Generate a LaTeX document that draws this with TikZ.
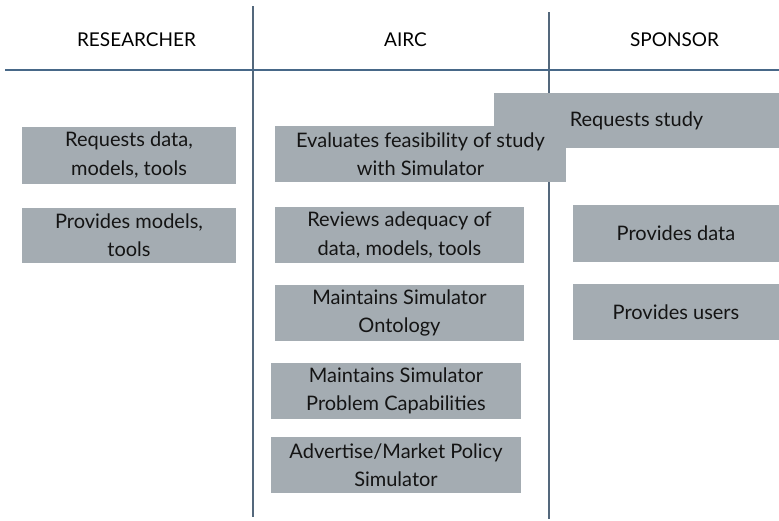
\documentclass[tikz,border=0pt]{standalone}
\usepackage{fontspec}
\setmainfont{Lato}
\definecolor{taskfill}{RGB}{164,172,178}
\definecolor{tasktext}{RGB}{20,20,20}
\definecolor{ruleblue}{RGB}{72,104,136}
\definecolor{laneline}{RGB}{84,104,124}
\begin{document}
\begin{tikzpicture}[x=1pt,y=-1pt,
  task/.style={fill=taskfill, draw=none, inner sep=0pt, align=center,
    text=tasktext, font=\fontsize{20}{28.5}\selectfont},
  lanehead/.style={inner sep=0pt, text=black, font=\fontsize{19}{22}\selectfont},
  header rule/.style={draw=ruleblue, line width=1.6pt},
  lane rule/.style={draw=laneline, line width=1.3pt}]
\useasboundingbox (0,0) rectangle (779,520);

% lane headings
\node[lanehead] (hres) at (136.5,40) {RESEARCHER};
\node[lanehead] (hairc) at (405.5,40) {AIRC};
\node[lanehead] (hspo) at (674.5,40) {SPONSOR};

% lane separators
\coordinate (ruleL) at (5,70);
\coordinate (ruleR) at (779,70);
\coordinate (sep1t) at (253,6);
\coordinate (sep1b) at (253,517);
\coordinate (sep2t) at (549,12);
\coordinate (sep2b) at (549,519);
\draw[lane rule] (sep1t) -- (sep1b);
\draw[lane rule] (sep2t) -- (sep2b);
\draw[header rule] (ruleL) -- (ruleR);

% sponsor
\node[task, minimum width=285, minimum height=55] (s1) at (636.5,120.5) {Requests study};
\node[task, minimum width=206, minimum height=57] (s2) at (676,233.5) {Provides data};
\node[task, minimum width=206, minimum height=56] (s3) at (676,312) {Provides users};

% researcher
\node[task, minimum width=214, minimum height=57] (r1) at (129,155) {Requests data,\\models, tools};
\node[task, minimum width=214, minimum height=55] (r2) at (129,235) {Provides models,\\tools};

% AIRC
\node[task, minimum width=291, minimum height=56] (a1) at (420.5,154) {Evaluates feasibility of study\\with Simulator};
\node[task, minimum width=249, minimum height=56] (a2) at (399.5,235) {Reviews adequacy of\\data, models, tools};
\node[task, minimum width=249, minimum height=56] (a3) at (399.5,313) {Maintains Simulator\\Ontology};
\node[task, minimum width=250, minimum height=56] (a4) at (396,391) {Maintains Simulator\\Problem Capabilities};
\node[task, minimum width=250, minimum height=56] (a5) at (396,465) {Advertise/Market Policy\\Simulator};
\end{tikzpicture}
\end{document}
